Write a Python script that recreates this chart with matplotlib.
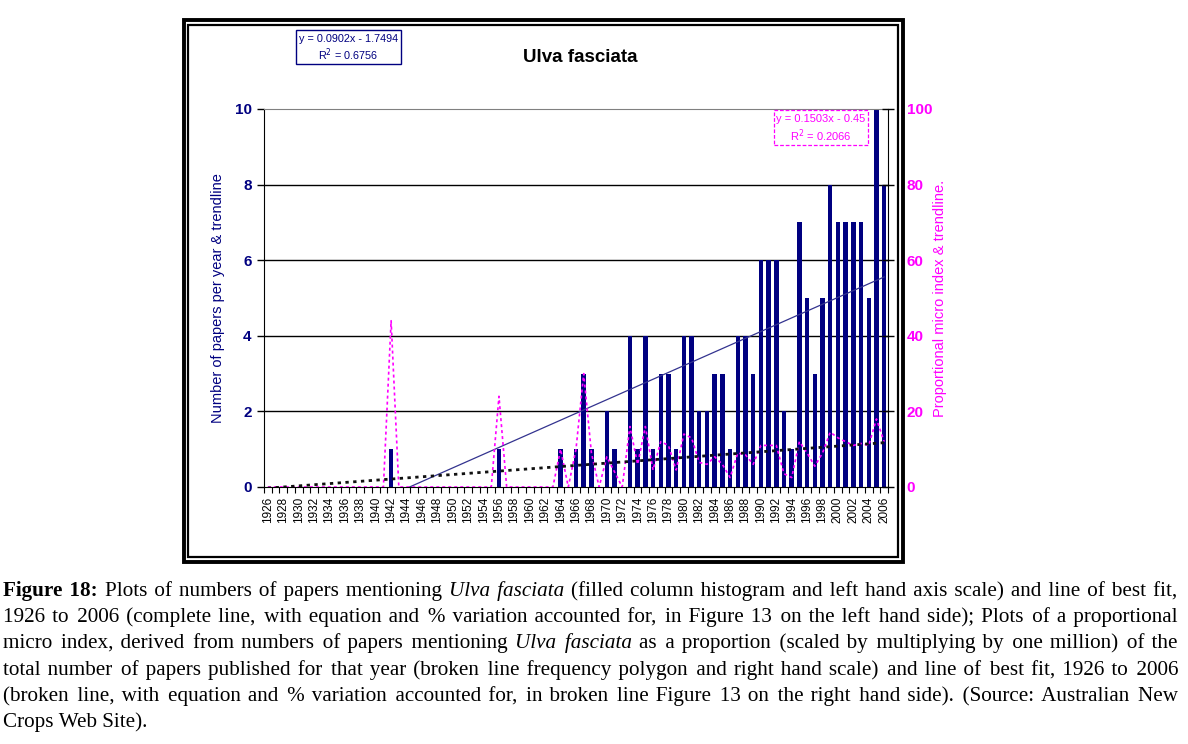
import matplotlib
matplotlib.use("Agg")
import matplotlib.pyplot as plt
from matplotlib.patches import Rectangle
from matplotlib.ticker import FixedLocator, NullFormatter
import numpy as np

# ---------------- data ----------------
years = list(range(1926, 2007))
papers = ([0] * 16 + [1] + [0] * 13 + [1] + [0] * 7 +
          [1, 0, 1, 3, 1, 0, 2, 1, 0, 4, 1, 4, 1, 3, 3, 1, 4, 4, 2, 2, 3, 3,
           1, 4, 4, 3, 6, 6, 6, 2, 1, 7, 5, 3, 5, 8, 7, 7, 7, 7, 5, 10, 8])
micro_index = ([0] * 16 + [44] + [0] * 13 + [24] + [0] * 7 +
               [10, 0, 10, 30, 9, 0, 8, 4, 0, 16, 6, 16, 4.5, 12, 11, 4.5, 14, 13,
                6.5, 6, 8, 6, 2.5, 9, 8.5, 6, 11, 11, 11, 3.5, 2.5, 12, 9, 5.5, 9,
                14.5, 13, 12, 11, 11.5, 11, 18, 12])
papers_trend = (0.0902, -1.7494)   # slope, intercept (x = 1..81)
papers_r2 = "0.6756"
index_trend = (0.1503, -0.45)
index_r2 = "0.2066"
title = "Ulva fasciata"
left_label = "Number of papers per year & trendline"
right_label = "Proportional micro index & trendline."

W, H = 1188, 744
fig = plt.figure(figsize=(W / 100, H / 100), dpi=100)
fig.patch.set_facecolor("white")

def fx(x):
    return x / W

def fy(y):
    return 1 - y / H

NAVY = "#000080"
MAG = "#FF00FF"

# ---------------- frame ----------------
fig.add_artist(Rectangle((fx(183.5), fy(562)), fx(903) - fx(183.5), fy(20) - fy(562),
                         transform=fig.transFigure, fill=False, lw=2.8, ec="black"))
fig.add_artist(Rectangle((fx(188), fy(557)), fx(898) - fx(188), fy(24.5) - fy(557),
                         transform=fig.transFigure, fill=False, lw=1.6, ec="black"))

# ---------------- axes ----------------
ax = fig.add_axes([fx(264), fy(487), fx(888) - fx(264), fy(109) - fy(487)])
n = len(years)
x = np.arange(n)
ax.bar(x, papers, width=0.58, color=NAVY, zorder=2)
xi = np.arange(1, n + 1)
ax.plot(x, papers_trend[0] * xi + papers_trend[1], color="#33338f", lw=0.9, zorder=3)
ax.set_xlim(-0.5, n - 0.5)
ax.set_ylim(0, 10)
ax.set_yticks([0, 2, 4, 6, 8, 10])
ax.set_yticklabels(["0", "2", "4", "6", "8", "10"])
ax.tick_params(axis="y", colors="black", labelcolor=NAVY, labelsize=11,
               direction="out", length=5, width=1, pad=4)
for t in ax.get_yticklabels():
    t.set_fontweight("bold")
    t.set_family("Liberation Sans")
for yv in [2, 4, 6, 8]:
    ax.axhline(yv, color="black", lw=1, zorder=1)
ax.spines["top"].set_color("#808080")
ax.spines["right"].set_visible(False)
ax.spines["left"].set_color("black")
ax.spines["bottom"].set_color("black")

ax.set_xticks(x[::2])
ax.set_xticklabels([str(y) for y in years[::2]], rotation=90, fontsize=8.5,
                   family="Liberation Sans")
ax.tick_params(axis="x", which="major", length=0, pad=7)
ax.xaxis.set_minor_locator(FixedLocator(np.arange(-0.5, n, 1)))
ax.xaxis.set_minor_formatter(NullFormatter())
ax.tick_params(axis="x", which="minor", direction="out", length=4, width=0.8, color="black")

ax.set_ylabel(left_label, color=NAVY, fontsize=10.5, family="Liberation Sans")
ax.yaxis.set_label_coords(-0.0625, 0.5)

ax2 = ax.twinx()
ax2.plot(x, micro_index, color=MAG, lw=1.2, linestyle=(0, (1.8, 1.8)), zorder=3)
ax2.plot(x, index_trend[0] * xi + index_trend[1], color="#111111", lw=2.0,
         linestyle=(0, (1.2, 1.6)), zorder=4)
ax2.set_ylim(0, 100)
ax2.set_yticks([0, 20, 40, 60, 80, 100])
ax2.tick_params(axis="y", colors="black", labelcolor=MAG, labelsize=11,
                direction="inout", length=9, width=1, pad=9)
for t in ax2.get_yticklabels():
    t.set_fontweight("bold")
    t.set_family("Liberation Sans")
for s in ["top", "left", "bottom"]:
    ax2.spines[s].set_visible(False)
ax2.spines["right"].set_color("black")
ax2.set_ylabel(right_label, color=MAG, fontsize=10.5, family="Liberation Sans")
ax2.yaxis.set_label_coords(1.072, 0.5)

# ---------------- title and equation boxes ----------------
fig.text(fx(580), fy(57), title, ha="center", va="center", fontsize=13.5,
         fontweight="bold", family="Liberation Sans")

fig.add_artist(Rectangle((fx(296), fy(64)), fx(401) - fx(296), fy(30) - fy(64),
                         transform=fig.transFigure, fill=False, lw=1, ec=NAVY))
fig.text(fx(348.5), fy(39), "y = %.4fx - %.4f" % (papers_trend[0], -papers_trend[1]),
         ha="center", va="center", fontsize=7.8, color=NAVY, family="Liberation Sans")
fig.text(fx(348.5), fy(55), r"R$^2$ = " + papers_r2, ha="center", va="center",
         fontsize=7.8, color=NAVY, family="Liberation Sans")

fig.add_artist(Rectangle((fx(774), fy(145)), fx(868) - fx(774), fy(110) - fy(145),
                         transform=fig.transFigure, fill=False, lw=0.9, ec=MAG,
                         linestyle=(0, (3, 1.5))))
fig.text(fx(821), fy(119), "y = %.4fx - %.2f" % (index_trend[0], -index_trend[1]),
         ha="center", va="center", fontsize=8.0, color=MAG, family="Liberation Sans")
fig.text(fx(821), fy(136), r"R$^2$ = " + index_r2, ha="center", va="center",
         fontsize=8.0, color=MAG, family="Liberation Sans")

# ---------------- caption (justified) ----------------
caption_lines = [
    [("Figure 18:", "b"), ("Plots of numbers of papers mentioning", "n"), ("Ulva fasciata", "i"),
     ("(filled column histogram and left hand axis scale) and line of best fit,", "n")],
    [("1926 to 2006 (complete line, with equation and % variation accounted for, in Figure 13 on the left hand side); Plots of a proportional", "n")],
    [("micro index, derived from numbers of papers mentioning", "n"), ("Ulva fasciata", "i"),
     ("as a proportion (scaled by multiplying by one million) of the", "n")],
    [("total number of papers published for that year (broken line frequency polygon and right hand scale) and line of best fit, 1926 to 2006", "n")],
    [("(broken line, with equation and % variation accounted for, in broken line Figure 13 on the right hand side). (Source: Australian New", "n")],
    [("Crops Web Site).", "n")],
]
cap_y = [596, 622.2, 648.4, 674.6, 700.8, 727]
CAP_FS = 15.2
SERIF = ["Liberation Serif", "DejaVu Serif"]
HAIR = "\u200a"
renderer = fig.canvas.get_renderer()


def style_kw(st):
    kw = dict(fontsize=CAP_FS, family=SERIF, va="baseline", ha="left")
    if st == "b":
        kw["fontweight"] = "bold"
    if st == "i":
        kw["fontstyle"] = "italic"
    return kw


def measure(s, st):
    t = fig.text(0, 0, s, **style_kw(st))
    w = t.get_window_extent(renderer).width
    t.remove()
    return w


hair_w = (measure("a" + HAIR * 40 + "a", "n") - measure("aa", "n")) / 40.0
space_w = measure("a a", "n") - measure("aa", "n")

x0, x1 = 3, 1178
for li, (segs, yb) in enumerate(zip(caption_lines, cap_y)):
    seg_words = [s[0].split() for s in segs]
    all_w = []
    for words, (_, st) in zip(seg_words, segs):
        for w_ in words:
            all_w.append(measure(w_, st))
    nw = len(all_w)
    last = li == len(caption_lines) - 1
    gap = space_w if last else (x1 - x0 - sum(all_w)) / (nw - 1)
    pos = [x0]
    for w_ in all_w[:-1]:
        pos.append(pos[-1] + w_ + gap)
    k = 0
    for words, (_, st) in zip(seg_words, segs):
        start = pos[k]
        s = words[0]
        cur = all_w[k]
        for j in range(1, len(words)):
            target = pos[k + j] - start
            nh = max(1, int(round((target - cur) / hair_w)))
            s += HAIR * nh + words[j]
            cur += nh * hair_w + all_w[k + j]
        fig.text(fx(start), fy(yb), s, **style_kw(st))
        k += len(words)

fig.savefig("out.png", dpi=100, facecolor="white")
